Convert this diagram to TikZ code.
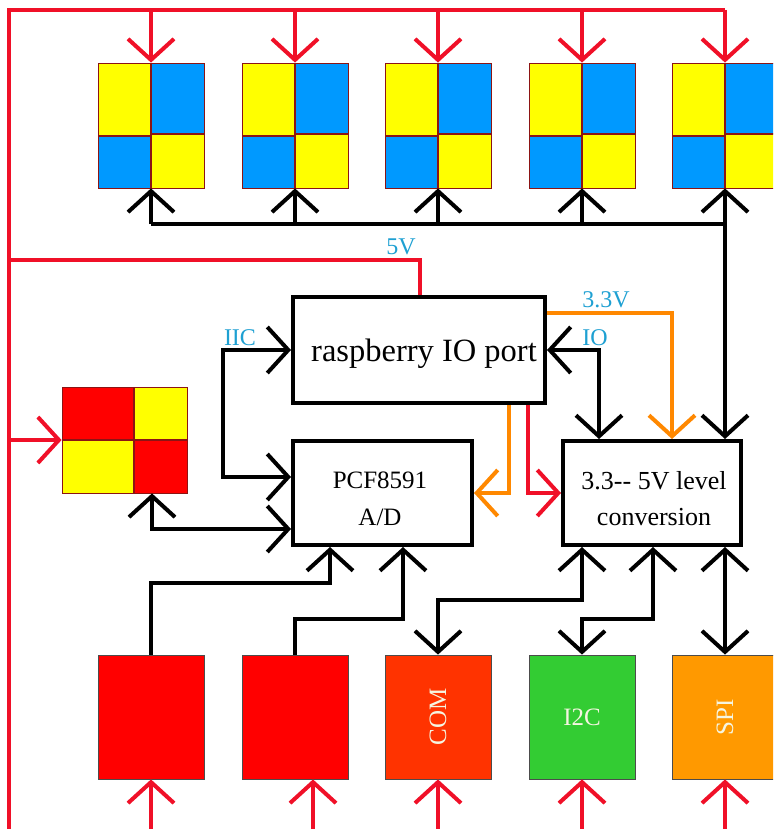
\documentclass[tikz,border=0pt]{standalone}
\usepackage{fontspec}
\setmainfont{Liberation Serif}
\usepackage{graphicx}
\usetikzlibrary{arrows.meta,calc}
\definecolor{tyellow}{RGB}{255,255,0}
\definecolor{tblue}{RGB}{0,153,255}
\definecolor{tred}{RGB}{255,0,0}
\definecolor{wire}{RGB}{240,16,40}
\definecolor{owire}{RGB}{255,136,0}
\definecolor{lblue}{RGB}{30,160,210}
\definecolor{qedge}{RGB}{140,20,20}
\definecolor{comc}{RGB}{255,51,0}
\definecolor{i2cc}{RGB}{51,204,51}
\definecolor{spic}{RGB}{255,153,0}
\definecolor{ptext}{RGB}{245,245,225}
\newcommand{\toptile}[2]{%
  \fill[tyellow] (#2-53,63) rectangle (#2,136);
  \fill[tblue] (#2-53,136) rectangle (#2,188);
  \fill[tblue] (#2,63) rectangle (#2+53,134);
  \fill[tyellow] (#2,134) rectangle (#2+53,188);
  \draw[qline] (#2-53,136) -- (#2,136) (#2,134) -- (#2+53,134) (#2,63) -- (#2,188);
  \node[tilebox] (#1) at (#2,125.5) {};
}
\begin{document}
\begin{tikzpicture}[x=1pt,y=-1pt,
  >={Straight Barb[length=21pt,width=46pt]},
  rl/.style={draw=wire,line width=4pt},
  bl/.style={draw=black,line width=4pt},
  ol/.style={draw=owire,line width=4pt},
  box/.style={draw=black,line width=4pt,fill=white,inner sep=0pt},
  boxtext/.style={inner sep=0pt,align=center},
  tilebox/.style={draw=qedge,line width=0.8pt,inner sep=0pt,minimum width=106pt,minimum height=125pt},
  qline/.style={draw=qedge,line width=1.2pt},
  btile/.style={draw=black!70,line width=0.8pt,inner sep=0pt,minimum width=106pt,minimum height=124pt,text=ptext,font=\fontsize{25}{28}\selectfont},
  lbl/.style={text=lblue,inner sep=0pt,font=\fontsize{24}{26}\selectfont}]
\useasboundingbox (0,0) rectangle (773,829);
\clip (0,0) rectangle (773,829);

% top tiles
\toptile{t1}{151}
\toptile{t2}{295}
\toptile{t3}{438}
\toptile{t4}{582}
\toptile{t5}{725}

% left tile
\fill[tred] (62,387) rectangle (134,440);
\fill[tyellow] (134,387) rectangle (187,440);
\fill[tyellow] (62,440) rectangle (134,493);
\fill[tred] (134,440) rectangle (187,493);
\draw[qline] (62,440) -- (187,440) (134,387) -- (134,493);
\node[tilebox,minimum width=125pt,minimum height=106pt] (lt) at (124.5,440) {};

% boxes
\node[box,minimum width=252pt,minimum height=106pt] (rasp) at (419,350) {};
\node[box,minimum width=179pt,minimum height=104pt] (pcf) at (382.5,493) {};
\node[box,minimum width=178pt,minimum height=104pt] (lvl) at (652,493) {};
\node[boxtext,font=\fontsize{32.5}{37}\selectfont] (rasptxt) at (424,354) {raspberry IO port};
\node[boxtext,font=\fontsize{25}{37}\selectfont] (pcftxt) at (380,499) {PCF8591\\A/D};
\node[boxtext,font=\fontsize{26}{36}\selectfont] (lvltxt) at (654,499) {3.3-{}- 5V level\\conversion};

% bottom tiles
\node[btile,fill=tred] (b1) at (151,717) {};
\node[btile,fill=tred] (b2) at (295,717) {};
\node[btile,fill=comc] (b3) at (438,717) {\rotatebox{90}{COM}};
\node[btile,fill=i2cc] (b4) at (582,717) {I2C};
\node[btile,fill=spic] (b5) at (725,717) {\rotatebox{90}{SPI}};

% labels
\node[lbl] (l5v) at (401,247) {5V};
\node[lbl] (liic) at (240,338) {IIC};
\node[lbl] (l33) at (606,300) {3.3V};
\node[lbl] (lio) at (595,338) {IO};

% coordinates
\coordinate (top) at (9,10);
\coordinate (bot) at (0,829);
\coordinate (bus) at (0,224);
\coordinate (v5) at (420,260);
\coordinate (iicA) at (223,350);
\coordinate (iicB) at (223,477);
\coordinate (lc) at (152,529);
\coordinate (oc) at (509,493);
\coordinate (rc) at (528,493);
\coordinate (o33) at (672,313);
\coordinate (io) at (599,350);
\coordinate (p1) at (330,583);
\coordinate (p2) at (403,619);
\coordinate (c1) at (582,600);
\coordinate (c2) at (653,619);

% red power wires
\draw[rl] (top |- bot) -- (top) -- (t5.north |- top);
\foreach \t in {t1,t2,t3,t4,t5}
  \draw[rl,->] (\t.north |- top) -- (\t.north);
\draw[rl,->] (top |- lt.west) -- (lt.west);
\draw[rl] (top |- v5) -- (v5) -- (v5 |- rasp.north);
\draw[rl,->] (rc |- rasp.south) -- (rc) -- (lvl.west);
\foreach \b in {b1,b3,b4,b5}
  \draw[rl,->] (\b.south |- bot) -- (\b.south);
\draw[rl,->] ([xshift=18pt]b2.south |- bot) -- ([xshift=18pt]b2.south);

% black bus
\draw[bl,->] (t1.south |- bus) -- (t5.south |- bus) -- (t5.south |- lvl.north);
\foreach \t in {t1,t2,t3,t4,t5}
  \draw[bl,->] (\t.south |- bus) -- (\t.south);

% IIC
\draw[bl,<->] (rasp.west) -- (iicA) -- (iicB) -- (iicB -| pcf.west);
\draw[bl,<->] (lc |- lt.south) -- (lc) -- (lc -| pcf.west);

% IO
\draw[bl,<->] (rasp.east) -- (io) -- (io |- lvl.north);

% orange
\draw[ol,->] (rasp.east |- o33) -- (o33) -- (o33 |- lvl.north);
\draw[ol,->] (oc |- rasp.south) -- (oc) -- (pcf.east);

% bottom connections
\draw[bl,->] (b1.north) -- (b1.north |- p1) -- (p1) -- (p1 |- pcf.south);
\draw[bl,->] (b2.north) -- (b2.north |- p2) -- (p2) -- (p2 |- pcf.south);
\draw[bl,<->] (b3.north) -- (b3.north |- c1) -- (c1) -- (c1 |- lvl.south);
\draw[bl,<->] (b4.north) -- (b4.north |- c2) -- (c2) -- (c2 |- lvl.south);
\draw[bl,<->] (b5.north) -- (b5.north |- lvl.south);
\end{tikzpicture}
\end{document}
